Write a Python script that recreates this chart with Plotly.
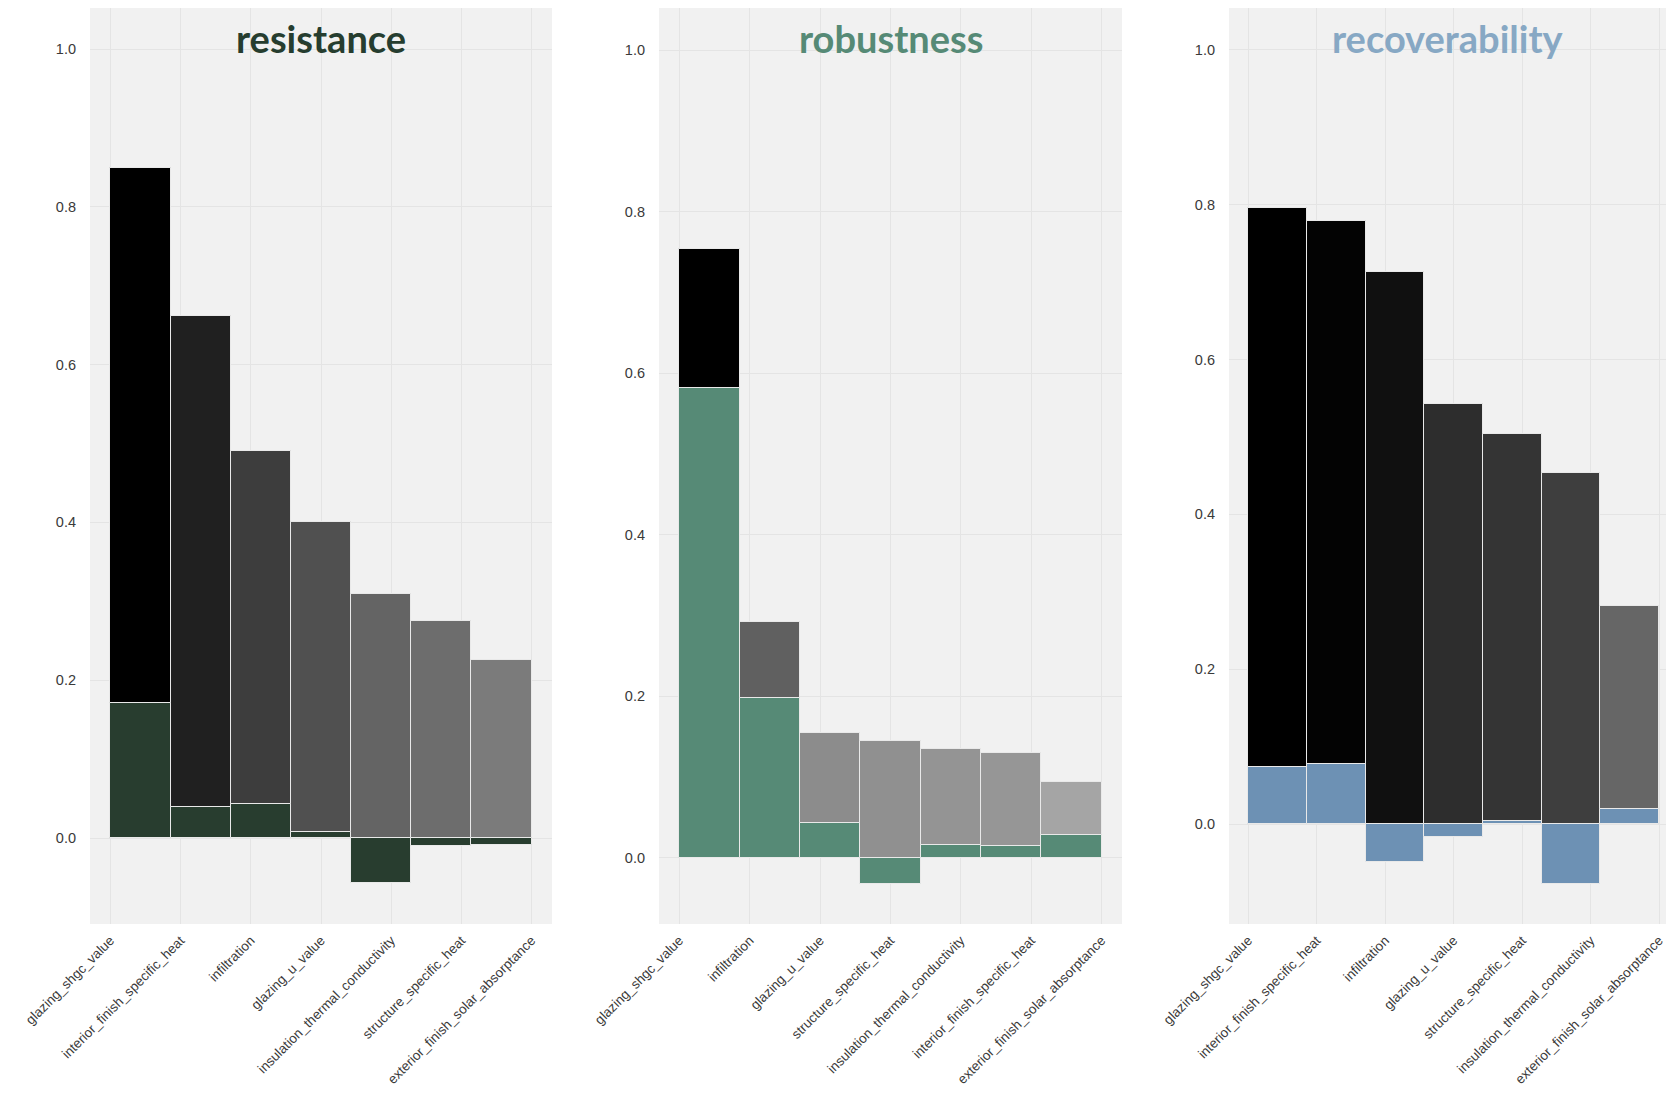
import plotly.graph_objects as go

# ---------------- data ----------------
res_labels = ["glazing_shgc_value", "interior_finish_specific_heat", "infiltration",
              "glazing_u_value", "insulation_thermal_conductivity",
              "structure_specific_heat", "exterior_finish_solar_absorptance"]
res_total = [0.849, 0.661, 0.490, 0.400, 0.309, 0.275, 0.225]
res_part = [0.171, 0.039, 0.043, 0.008, -0.057, -0.010, -0.009]

rob_labels = ["glazing_shgc_value", "infiltration", "glazing_u_value",
              "structure_specific_heat", "insulation_thermal_conductivity",
              "interior_finish_specific_heat", "exterior_finish_solar_absorptance"]
rob_total = [0.754, 0.292, 0.155, 0.145, 0.135, 0.130, 0.094]
rob_part = [0.582, 0.198, 0.043, -0.032, 0.016, 0.015, 0.028]

rec_labels = ["glazing_shgc_value", "interior_finish_specific_heat", "infiltration",
              "glazing_u_value", "structure_specific_heat",
              "insulation_thermal_conductivity", "exterior_finish_solar_absorptance"]
rec_total = [0.796, 0.779, 0.713, 0.543, 0.504, 0.454, 0.282]
rec_part = [0.074, 0.078, -0.049, -0.017, 0.004, -0.077, 0.019]

titles = ["resistance", "robustness", "recoverability"]

# ---------------- style ----------------
part_colors = ["#283d2f", "#568a76", "#6d91b4"]
title_colors = ["#263d2f", "#568a76", "#87a8c4"]
# grey shade as a function of (value / panel max)
grey_stops = [(0.0, 205), (0.125, 165), (0.2, 142), (0.265, 123), (0.36, 101),
              (0.47, 80), (0.575, 61), (0.68, 45), (0.78, 32), (0.9, 15),
              (0.98, 3), (1.0, 0)]
grey_scale = [[p, f"rgb({g},{g},{g})"] for p, g in grey_stops]

W, H = 1658, 1086
ML, MT, MB = 82, 0, 170
paper_w = W - ML
domains = [[0.0, 462 / paper_w], [(651 - ML) / paper_w, (1114 - ML) / paper_w],
           [(1221 - ML) / paper_w, 1.0]]
y_ranges = [[-0.109, 1.052], [-0.082, 1.052], [-0.129, 1.054]]
x_ranges = [[-0.29, 6.29], [-0.29, 6.29], [-0.28, 6.1]]

panels = [(res_labels, res_total, res_part), (rob_labels, rob_total, rob_part),
          (rec_labels, rec_total, rec_part)]

fig = go.Figure()
edge = dict(color="#e9e9e9", width=1)
x_tick_font = dict(family="Liberation Sans, Arial, sans-serif", size=13.5, color="#3a3a3a")
y_tick_font = dict(family="Liberation Sans, Arial, sans-serif", size=14.5, color="#3a3a3a")

for k, (labels, total, part) in enumerate(panels):
    n = len(labels)
    span = (n - 1) / n
    xs = [(i + 0.5) * span for i in range(n)]
    xa = "x" if k == 0 else f"x{k+1}"
    ya = "y" if k == 0 else f"y{k+1}"
    fig.add_trace(go.Bar(
        x=xs, y=total, width=span, xaxis=xa, yaxis=ya,
        marker=dict(color=total, colorscale=grey_scale, cmin=0, cmax=max(total),
                    showscale=False, line=edge),
        showlegend=False, hoverinfo="y"))
    fig.add_trace(go.Bar(
        x=xs, y=part, width=span, xaxis=xa, yaxis=ya,
        marker=dict(color=part_colors[k], line=edge),
        showlegend=False, hoverinfo="y"))

    axis_common = dict(showgrid=True, gridcolor="#e4e4e4", gridwidth=1,
                       zeroline=False, showline=False, ticks="",
                       automargin=False)
    xkey = "xaxis" if k == 0 else f"xaxis{k+1}"
    ykey = "yaxis" if k == 0 else f"yaxis{k+1}"
    fig.update_layout({
        xkey: dict(domain=domains[k], anchor=ya, range=x_ranges[k],
                   tickmode="array", tickvals=list(range(n)), ticktext=labels,
                   tickangle=-45, ticklabelstandoff=5, ticklabeloverflow="allow",
                   tickfont=x_tick_font, **axis_common),
        ykey: dict(domain=[0, 1], anchor=xa, range=y_ranges[k],
                   tickmode="array", tickvals=[0, 0.2, 0.4, 0.6, 0.8, 1.0],
                   tickformat=".1f", ticklabelstandoff=13,
                   tickfont=y_tick_font, **axis_common),
    })
    fig.add_annotation(
        text=titles[k], xref=f"{xa} domain", yref=f"{ya} domain",
        x=0.5, y=0.967, xanchor="center", yanchor="middle", showarrow=False,
        font=dict(family="Lato, 'Open Sans', sans-serif", size=38,
                  color=title_colors[k], weight=700))

fig.update_layout(
    width=W, height=H, barmode="overlay", bargap=0,
    margin=dict(l=ML, r=0, t=MT, b=MB, pad=0, autoexpand=False),
    paper_bgcolor="white", plot_bgcolor="#f1f1f1",
)

fig.write_html("out.html")
